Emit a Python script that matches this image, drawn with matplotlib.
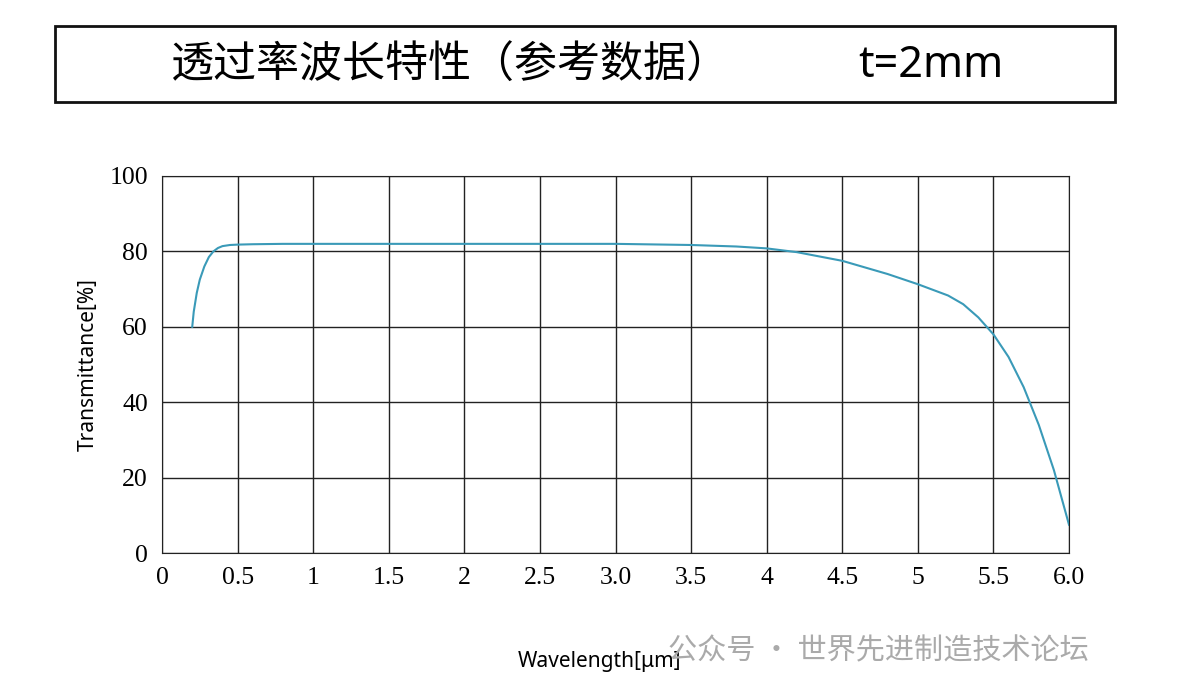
import matplotlib
matplotlib.use("Agg")
import matplotlib.pyplot as plt
from matplotlib.patches import Rectangle

wavelength = [0.2, 0.21, 0.23, 0.25, 0.28, 0.31, 0.34, 0.37, 0.4, 0.45, 0.5, 0.6, 0.8, 1.0, 1.5, 2.0, 2.5, 3.0, 3.5, 3.8, 4.0, 4.2, 4.5, 4.8, 5.0, 5.2, 5.3, 5.4, 5.5, 5.6, 5.7, 5.8, 5.9, 6.0]
transmittance = [60, 64, 69, 72.5, 76, 78.5, 80, 80.9, 81.4, 81.7, 81.8, 81.9, 82, 82, 82, 82, 82, 82, 81.7, 81.3, 80.8, 79.8, 77.5, 74, 71.3, 68.3, 66, 62.5, 58, 52, 44, 34, 22, 7.5]
xticks = [0, 0.5, 1, 1.5, 2, 2.5, 3.0, 3.5, 4, 4.5, 5, 5.5, 6.0]
xticklabels = ["0", "0.5", "1", "1.5", "2", "2.5", "3.0", "3.5", "4", "4.5", "5", "5.5", "6.0"]
yticks = [0, 20, 40, 60, 80, 100]

fig = plt.figure(figsize=(11.79, 6.96), dpi=100)
ax = fig.add_axes([162/1179, 1-553/696, (1069-162)/1179, (553-176)/696])
ax.plot(wavelength, transmittance, color="#3a9ab8", lw=1.5)
ax.set_xlim(0, 6.0)
ax.set_ylim(0, 100)
ax.set_xticks(xticks)
ax.set_xticklabels(xticklabels, fontfamily="Liberation Serif", fontsize=18.5)
ax.set_yticks(yticks)
ax.set_yticklabels([str(v) for v in yticks], fontfamily="Liberation Serif", fontsize=18.5)
ax.tick_params(length=0, pad=10)
ax.grid(True, color="#222222", lw=1.0)
for s in ax.spines.values():
    s.set_color("#222222")
ax.set_ylabel("Transmittance[%]", fontsize=15, fontfamily="Noto Sans", labelpad=8)
fig.text(600/1179, 1-662/696, "Wavelength[μm]", fontsize=15, fontfamily="Noto Sans", ha="center", va="center")

fig.patches.append(Rectangle((55/1179, 1-102/696), (1115-55)/1179, (102-26)/696,
                             transform=fig.transFigure, fill=False, ec="#111111", lw=2))
fig.text(170/1179, 1-66/696, "透过率波长特性（参考数据）", fontsize=31,
         family=["Noto Sans CJK SC", "DejaVu Sans"], ha="left", va="center")
fig.text(858/1179, 1-66/696, "t=2mm", fontsize=31, family=["Noto Sans", "DejaVu Sans"], ha="left", va="center")
fig.text(668/1179, 1-651/696, "公众号 · 世界先进制造技术论坛", fontsize=21, color="#aaaaaa",
         family=["Noto Sans CJK SC", "DejaVu Sans"], ha="left", va="center")
fig.savefig("out.png", dpi=100)
